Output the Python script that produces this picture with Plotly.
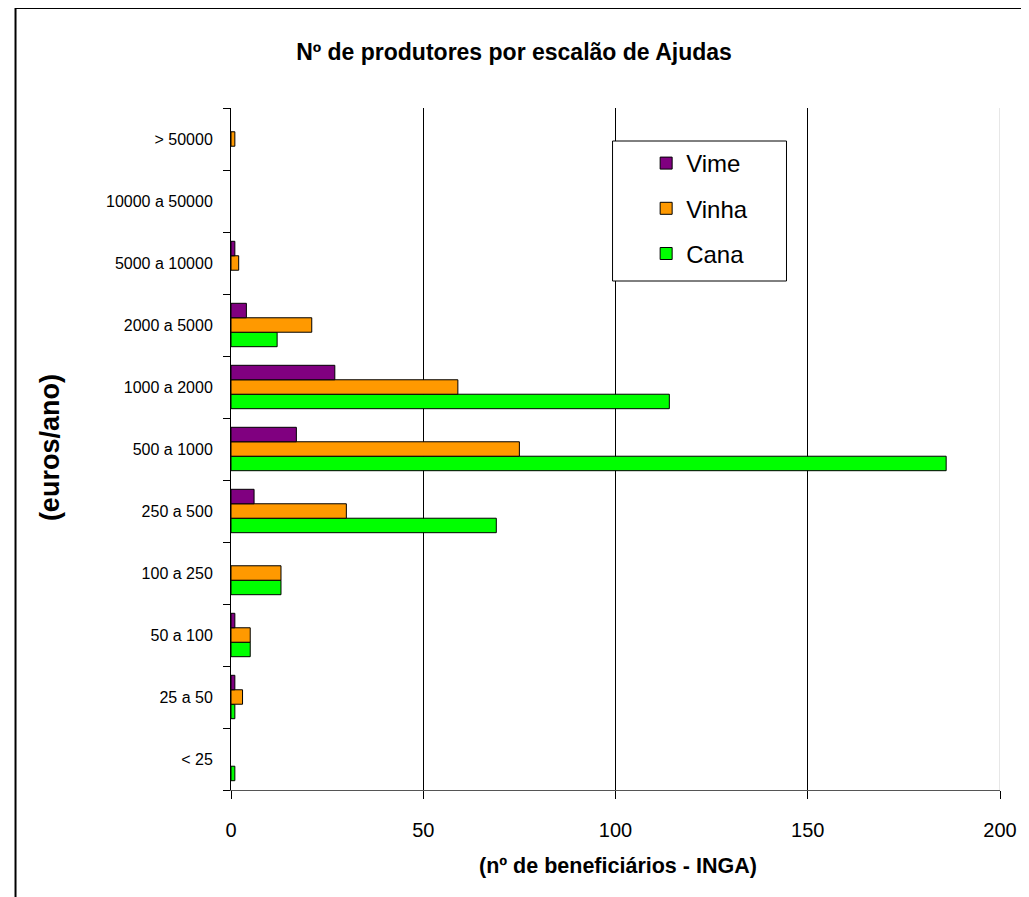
import plotly.graph_objects as go

categories = ["< 25", "25 a 50", "50 a 100", "100 a 250", "250 a 500", "500 a 1000",
              "1000 a 2000", "2000 a 5000", "5000 a 10000", "10000 a 50000", "> 50000"]
vime = [0, 1, 1, 0, 6, 17, 27, 4, 1, 0, 0]
vinha = [0, 3, 5, 13, 30, 75, 59, 21, 2, 0, 1]
cana = [1, 1, 5, 13, 69, 186, 114, 12, 0, 0, 0]
x_ticks = [0, 50, 100, 150, 200]

# page body adds an 8px offset; figure sized so it ends at the window edge
OFF = 8
W, H = 1029 - OFF, 897 - OFF
L, R, T, B = 223, 20, 100, 107
PW, PH = W - L - R, H - T - B

def px(x):  # x in screenshot pixels -> paper
    return (x - OFF - L) / PW

def py(y):  # y in screenshot pixels -> paper
    return (H - B - (y - OFF)) / PH

FONT = "Liberation Sans, Arial, sans-serif"

fig = go.Figure()
for name, vals, col, rank in [("Cana", cana, "#00FF00", 3),
                              ("Vinha", vinha, "#FF9900", 2),
                              ("Vime", vime, "#800080", 1)]:
    fig.add_trace(go.Bar(
        y=categories, x=[v if v else None for v in vals], name=name, orientation="h",
        marker=dict(color=col, line=dict(color="black", width=1)),
        legendgroup=name, legendrank=rank,
    ))

shapes = [
    # outer chart frame
    dict(type="line", xref="paper", yref="paper", x0=px(13), x1=px(13), y0=py(8), y1=py(910),
         line=dict(color="black", width=2), layer="above"),
    dict(type="line", xref="paper", yref="paper", x0=px(13), x1=px(1040), y0=py(8), y1=py(8),
         line=dict(color="black", width=2), layer="above"),
    # right-most gridline (at the axis maximum)
    dict(type="line", xref="x", yref="paper", x0=x_ticks[-1], x1=x_ticks[-1], y0=0, y1=1,
         line=dict(color="#cfcfcf", width=1), layer="below"),
    # legend box
    dict(type="rect", xref="paper", yref="paper", x0=px(617), x1=px(793), y0=py(281), y1=py(141),
         line=dict(color="black", width=1), fillcolor="white", layer="above"),
]

annotations = [
    dict(text="<b>(euros/ano)</b>", xref="paper", yref="paper", x=px(48), y=py(448),
         textangle=-90, showarrow=False, font=dict(family=FONT, size=27, color="black"),
         xanchor="center", yanchor="middle"),
    dict(text="<b>(nº de beneficiários - INGA)</b>", xref="paper", yref="paper", x=px(623), y=py(866),
         showarrow=False, font=dict(family=FONT, size=21.5, color="black"),
         xanchor="center", yanchor="middle"),
]

fig.update_layout(
    width=W, height=H,
    margin=dict(l=L, r=R, t=T, b=B),
    paper_bgcolor="white", plot_bgcolor="white",
    barmode="group", bargap=0.3, bargroupgap=0,
    font=dict(family=FONT, color="black"),
    title=dict(text="<b>Nº de produtores por escalão de Ajudas</b>", x=(514 - OFF) / W, xref="container",
               xanchor="center", y=1 - (52 - OFF) / H, yanchor="middle",
               font=dict(family=FONT, size=23, color="black")),
    showlegend=True,
    legend=dict(x=px(651), y=py(141), xanchor="left", yanchor="top",
                traceorder="grouped", tracegroupgap=11,
                bgcolor="rgba(0,0,0,0)", borderwidth=0,
                font=dict(family=FONT, size=24, color="black")),
    xaxis=dict(range=[0, 200], tickvals=x_ticks, ticktext=[str(v) for v in x_ticks],
               showgrid=True, gridcolor="black", gridwidth=1,
               showline=True, linecolor="#555555", linewidth=1,
               ticks="outside", ticklen=8, tickcolor="black", ticklabelstandoff=14,
               ticklabeloverflow="allow",
               tickfont=dict(family=FONT, size=20, color="black"), zeroline=False,
               fixedrange=True),
    yaxis=dict(type="category", categoryorder="array", categoryarray=categories,
               showgrid=False, showline=True, linecolor="black", linewidth=1,
               ticks="outside", ticklen=7, tickcolor="black", tickson="boundaries",
               ticklabelstandoff=14,
               tickfont=dict(family=FONT, size=16, color="black")),
    shapes=shapes,
    annotations=annotations,
)

fig.write_html("out.html")
